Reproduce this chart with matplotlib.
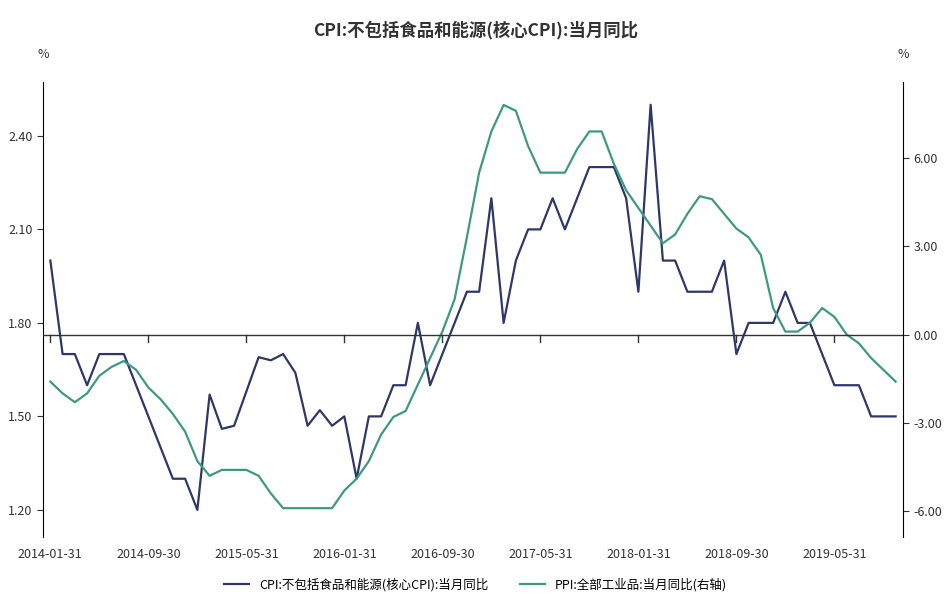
import numpy as np
import pandas as pd
import matplotlib.pyplot as plt

plt.rcParams['font.family'] = ['Noto Sans CJK SC', 'DejaVu Sans']

dates = pd.date_range('2014-01-31', periods=70, freq='ME')
cpi = [2.0, 1.7, 1.7, 1.6, 1.7, 1.7, 1.7, 1.6, 1.5, 1.4, 1.3, 1.3,
       1.2, 1.57, 1.46, 1.47, 1.58, 1.69, 1.68, 1.70, 1.64, 1.47, 1.52, 1.47,
       1.50, 1.30, 1.50, 1.50, 1.60, 1.60, 1.80, 1.60, 1.70, 1.80, 1.90, 1.90,
       2.20, 1.80, 2.00, 2.10, 2.10, 2.20, 2.10, 2.20, 2.30, 2.30, 2.30, 2.20,
       1.90, 2.50, 2.00, 2.00, 1.90, 1.90, 1.90, 2.00, 1.70, 1.80, 1.80, 1.80,
       1.90, 1.80, 1.80, 1.70, 1.60, 1.60, 1.60, 1.50, 1.50, 1.50]
ppi = [-1.6, -2.0, -2.3, -2.0, -1.4, -1.1, -0.9, -1.2, -1.8, -2.2, -2.7, -3.3,
       -4.3, -4.8, -4.6, -4.6, -4.6, -4.8, -5.4, -5.9, -5.9, -5.9, -5.9, -5.9,
       -5.3, -4.9, -4.3, -3.4, -2.8, -2.6, -1.7, -0.8, 0.1, 1.2, 3.3, 5.5,
       6.9, 7.8, 7.6, 6.4, 5.5, 5.5, 5.5, 6.3, 6.9, 6.9, 5.8, 4.9,
       4.3, 3.7, 3.1, 3.4, 4.1, 4.7, 4.6, 4.1, 3.6, 3.3, 2.7, 0.9,
       0.1, 0.1, 0.4, 0.9, 0.6, 0.0, -0.3, -0.8, -1.2, -1.6]
cpi_name = 'CPI:不包括食品和能源(核心CPI):当月同比'
ppi_name = 'PPI:全部工业品:当月同比(右轴)'

x = np.arange(len(dates))
fig = plt.figure(figsize=(9.51, 6.02), dpi=100)
ax = fig.add_axes([43 / 951, 65 / 602, 860 / 951, 455 / 602])
ax2 = ax.twinx()

c1, c2 = '#2e3868', '#3e9a7e'
l1, = ax.plot(x, cpi, color=c1, lw=1.6)
l2, = ax2.plot(x, ppi, color=c2, lw=1.6)

ax.set_xlim(-0.6, len(x) - 0.4)
ax.set_ylim(1.113, 2.573)
ax2.set_ylim(-6.88, 8.58)
ax.set_yticks([1.2, 1.5, 1.8, 2.1, 2.4])
ax.set_yticklabels(['%.2f' % v for v in [1.2, 1.5, 1.8, 2.1, 2.4]])
ax2.set_yticks([-6, -3, 0, 3, 6])
ax2.set_yticklabels(['%.2f' % v for v in [-6, -3, 0, 3, 6]])

ticks = x[::8]
ax.set_xticks(ticks)
ax.set_xticklabels([dates[i].strftime('%Y-%m-%d') for i in ticks])
ax.tick_params(axis='x', length=0, pad=8, labelsize=9, colors='#333333')
ax2.axhline(0, color='#333333', lw=1)
for t in ticks:
    ax2.plot([t, t], [0, -0.25], color='#333333', lw=1)

for a in (ax, ax2):
    a.spines['top'].set_visible(False)
    a.spines['bottom'].set_visible(False)
    a.tick_params(axis='y', labelsize=9, colors='#333333', length=4)
ax.spines['right'].set_visible(False)
ax2.spines['left'].set_visible(False)

fig.text(43 / 951, 1 - 58 / 602, '%', fontsize=9, color='#333333', ha='center')
fig.text(903 / 951, 1 - 58 / 602, '%', fontsize=9, color='#333333', ha='center')
fig.suptitle('CPI:不包括食品和能源(核心CPI):当月同比', y=1 - 30 / 602, va='center',
             fontsize=12.5, fontweight='bold', color='#333333')
fig.legend([l1, l2], [cpi_name, ppi_name], loc='center', bbox_to_anchor=(0.5, 1 - 585 / 602),
           ncol=2, frameon=False, fontsize=9, handlelength=2, columnspacing=2.5)

fig.savefig('out.png', dpi=100)
